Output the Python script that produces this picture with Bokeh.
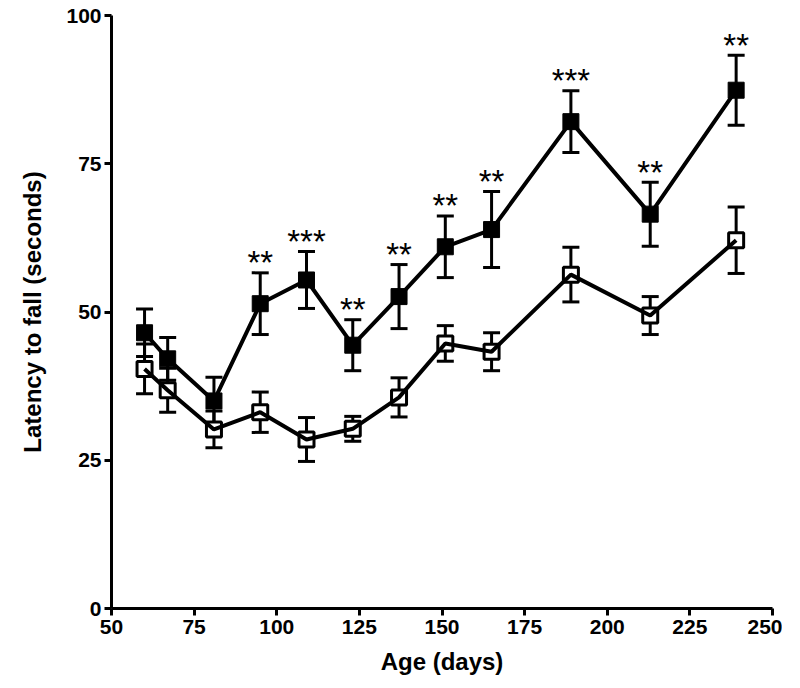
from bokeh.plotting import figure
from bokeh.models import ColumnDataSource, Whisker, TeeHead, FixedTicker
from bokeh.embed import file_html
from bokeh.resources import INLINE
from bokeh.core.properties import value

age = [60, 67, 81, 95, 109, 123, 137, 151, 165, 189, 213, 239]
filled_mean = [46.5, 42.1, 35.0, 51.4, 55.4, 44.4, 52.6, 61.0, 63.9, 82.1, 66.5, 87.4]
filled_sem = [4.0, 3.6, 4.0, 5.2, 4.8, 4.3, 5.4, 5.2, 6.4, 5.2, 5.4, 5.9]
open_mean = [40.4, 36.8, 30.2, 33.1, 28.5, 30.3, 35.6, 44.7, 43.3, 56.3, 49.4, 62.1]
open_sem = [4.2, 3.7, 3.1, 3.4, 3.7, 2.1, 3.3, 3.0, 3.2, 4.6, 3.2, 5.6]
sig_labels = ["", "", "", "**", "***", "**", "**", "**", "**", "***", "**", "**"]
x_ticks = [50, 75, 100, 125, 150, 175, 200, 225, 250]
y_ticks = [0, 25, 50, 75, 100]

FONT = "'Liberation Sans', Arial, sans-serif"

p = figure(frame_width=661, frame_height=593, x_range=(50, 250), y_range=(0, 100),
           output_backend="svg", toolbar_location=None,
           min_border_left=111, min_border_top=15, min_border_bottom=70, min_border_right=10)
p.outline_line_color = None
p.xgrid.visible = False
p.ygrid.visible = False

for ax in (p.xaxis, p.yaxis):
    ax.axis_line_width = 3
    ax.axis_line_color = "black"
    ax.major_tick_line_width = 3
    ax.major_tick_line_color = "black"
    ax.major_tick_out = 7
    ax.major_tick_in = 0
    ax.minor_tick_line_color = None
    ax.major_label_text_font = FONT
    ax.major_label_text_font_style = "bold"
    ax.major_label_text_font_size = "21px"
    ax.major_label_text_color = "black"
    ax.axis_label_text_font = FONT
    ax.axis_label_text_font_style = "bold"
    ax.axis_label_text_font_size = "24px"
    ax.axis_label_text_color = "black"

p.xaxis.ticker = FixedTicker(ticks=x_ticks)
p.yaxis.ticker = FixedTicker(ticks=y_ticks)
p.xaxis.axis_label = "Age (days)"
p.yaxis.axis_label = "Latency to fall (seconds)"
p.xaxis.major_label_standoff = 4
p.yaxis.major_label_standoff = 3
p.xaxis.axis_label_standoff = 11
p.yaxis.axis_label_standoff = 17

src_f = ColumnDataSource(dict(
    x=age, y=filled_mean,
    lo=[m - s for m, s in zip(filled_mean, filled_sem)],
    hi=[m + s for m, s in zip(filled_mean, filled_sem)],
    lab=sig_labels))
src_o = ColumnDataSource(dict(
    x=age, y=open_mean,
    lo=[m - s for m, s in zip(open_mean, open_sem)],
    hi=[m + s for m, s in zip(open_mean, open_sem)]))

for src in (src_o, src_f):
    w = Whisker(source=src, base="x", upper="hi", lower="lo", dimension="height",
                line_width=3, line_color="black",
                upper_head=TeeHead(size=17, line_width=3, line_color="black"),
                lower_head=TeeHead(size=17, line_width=3, line_color="black"))
    p.add_layout(w)

p.scatter("x", "y", source=src_o, marker="square", size=15, fill_color="white",
          line_color="black", line_width=3)
p.line("x", "y", source=src_o, line_width=4, line_color="black")
p.line("x", "y", source=src_f, line_width=4, line_color="black")
p.scatter("x", "y", source=src_f, marker="square", size=16, fill_color="black",
          line_color="black", line_width=1)

p.text("x", "hi", text="lab", source=src_f, text_align="center", text_baseline="alphabetic",
       y_offset=-10, text_font=value(FONT),
       text_font_size="33px", text_color="black")

open("out.html", "w").write(file_html(p, INLINE))
